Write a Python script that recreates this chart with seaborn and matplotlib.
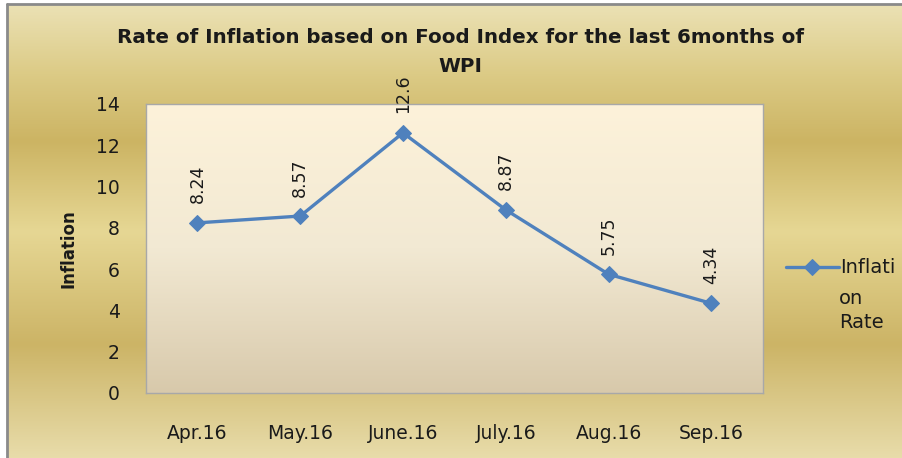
import numpy as np
import pandas as pd
import matplotlib
matplotlib.use('Agg')
import matplotlib.pyplot as plt
from matplotlib.colors import LinearSegmentedColormap
from matplotlib.lines import Line2D
import seaborn as sns

# ── Data ──────────────────────────────────────────────────────────────────────
months = ['Apr.16', 'May.16', 'June.16', 'July.16', 'Aug.16', 'Sep.16']
inflation = [8.24, 8.57, 12.6, 8.87, 5.75, 4.34]
value_labels = ['8.24', '8.57', '12.6', '8.87', '5.75', '4.34']
y_ticks = [0, 2, 4, 6, 8, 10, 12, 14]

df = pd.DataFrame({'month': months, 'rate': inflation})

sns.set_theme(style='white')
plt.rcParams['font.family'] = ['DejaVu Sans']

BLUE = '#4F81BD'
TXT = '#1a1a1a'

fig = plt.figure(figsize=(9.03, 4.58), dpi=100)
fig.patch.set_facecolor('white')

# ── Gold banded background ────────────────────────────────────────────────────
bg = fig.add_axes([8 / 903, 0, 1 - 9 / 903, 1 - 5 / 458], zorder=-10)
bg_cmap = LinearSegmentedColormap.from_list('gold', [
    (0.00, '#ebe1b4'), (0.15, '#dccb86'), (0.30, '#ccb463'),
    (0.50, '#e6d794'), (0.75, '#ccb466'), (1.00, '#e8dcaa')])
bg.imshow(np.linspace(0, 1, 256).reshape(-1, 1), aspect='auto', cmap=bg_cmap,
          extent=[0, 1, 0, 1], origin='upper')
bg.set_axis_off()
fig.add_artist(Line2D([7 / 903, 7 / 903], [0, 1 - 4 / 458], color='#8a8a8a', lw=2))
fig.add_artist(Line2D([7 / 903, 1], [1 - 4 / 458, 1 - 4 / 458], color='#8a8a8a', lw=2))

# ── Plot area ─────────────────────────────────────────────────────────────────
ax = fig.add_axes([0.1617, 0.142, 0.683, 0.631])
pa_cmap = LinearSegmentedColormap.from_list('pa', ['#fdf2da', '#f2e9d3', '#d8c9ab'])
ax.imshow(np.linspace(0, 1, 256).reshape(-1, 1), aspect='auto', cmap=pa_cmap,
          extent=[-0.5, 5.5, 0, 14], origin='upper', zorder=0)

sns.lineplot(data=df, x='month', y='rate', ax=ax, color=BLUE, lw=2.4,
             marker='D', markersize=8, markeredgecolor=BLUE, sort=False,
             label='Inflati', zorder=3)

for i, (v, s) in enumerate(zip(inflation, value_labels)):
    ax.annotate(s, (i, v), xytext=(0, 14), textcoords='offset points',
                rotation=90, ha='center', va='bottom', fontsize=12.5, color=TXT,
                annotation_clip=False)

ax.set_xlim(-0.5, 5.5)
ax.set_ylim(0, 14)
ax.set_yticks(y_ticks)
ax.tick_params(axis='both', length=0, labelsize=13.5, colors=TXT)
ax.tick_params(axis='y', pad=19)
ax.tick_params(axis='x', pad=22)
ax.set_xlabel('')
ax.set_ylabel('Inflation', fontsize=12, fontweight='bold', color=TXT, labelpad=13)
for sp in ax.spines.values():
    sp.set_color('#a8a8a8')
    sp.set_linewidth(1)

fig.text(0.51, 0.919, 'Rate of Inflation based on Food Index for the last 6months of',
         ha='center', va='center', fontsize=14.3, fontweight='bold', color=TXT)
fig.text(0.51, 0.854, 'WPI', ha='center', va='center', fontsize=14.3,
         fontweight='bold', color=TXT)

# ── Legend ────────────────────────────────────────────────────────────────────
leg = ax.legend(loc='center left', bbox_to_anchor=(0.862, 0.415),
                bbox_transform=fig.transFigure, frameon=False, fontsize=14,
                handlelength=2.7, handletextpad=0.05, borderaxespad=0)
for t in leg.get_texts():
    t.set_color(TXT)
fig.text(0.929, 0.37, 'on\nRate', ha='left', va='top', fontsize=14,
         color=TXT, linespacing=1.35)

fig.savefig('out.png', dpi=100)
